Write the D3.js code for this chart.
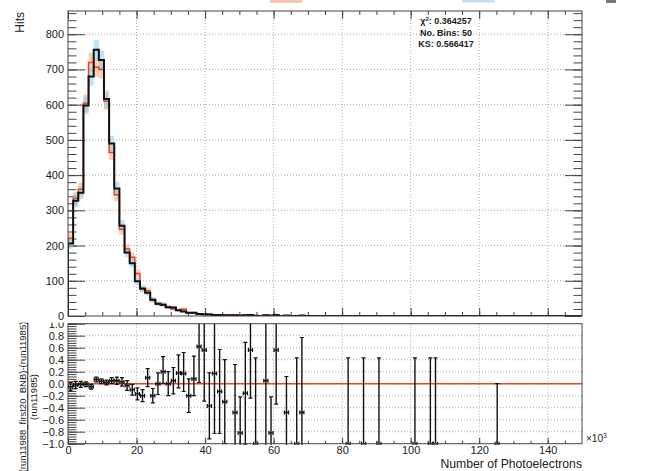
<!DOCTYPE html>
<html>
<head>
<meta charset="utf-8">
<script src="https://cdn.jsdelivr.net/npm/d3@7"></script>
<style>
  body { margin: 0; background: #fff; }
  text { font-family: "Liberation Sans", Arial, sans-serif; fill: #222; }
</style>
</head>
<body>
<div id="chart"></div>
<script>
// bins of 1.5 x10^3 photoelectrons, 0..150
var binWidth = 1.5;
var hitsRun11985 = [221,334,360,604,720,706,700,610,464,344,
  246,190,167,121,76,72,46,35,33,25,
  20,17,19,9,9,5,4,5,3,3,
  3,2,3,3,2,2,2,0,2,2,
  2,0,2,0,1,2,0,0,0,0,
  0,0,0,0,1,0,0,1,0,0,
  1,0,0,0,0,0,0,1,0,0,
  1,1,0,0,0,0,0,0,0,0,
  0,0,0,1,0,0,0,0,0,0,
  0,0,0,0,0,0,0,0,0,0];
var hitsFirst20 = [206,327,350,598,680,756,727,616,490,362,
  256,180,150,99,78,66,46,35,32,25,
  24,16,13,9,9,6,5,4,3,3,
  2,2,2,1,2,3,0,0,2,1,
  3,0,1,0,0,1,0,0,0,0,
  0,0,0,0,0,0,0,0,0,0,
  0,0,0,0,0,0,0,0,0,0,
  0,0,0,0,0,0,0,0,0,0,
  0,0,0,0,0,0,0,0,0,0,
  0,0,0,0,0,0,0,0,0,0];

// ratio (first20 - run11985)/run11985 per bin
var ratioBins  = [0,1,2,3,4,5,6,7,8,9,10,11,12,13,14,15,16,17,18,19,20,21,22,23,24,25,26,27,28,29,30,32,33,34,35,36,38,39,40,42,44,45,54,57,60,67,70,71,83];
var ratioVals  = [-0.05,-0.02,-0.01,-0.01,-0.05,0.07,0.04,0.02,0.05,0.05,0.03,-0.03,-0.1,-0.17,-0.2,0.1,-0.2,0.0,0.2,0.0,0.05,0.18,0.17,-0.2,0.08,0.62,0.56,-0.37,0.17,-0.13,-0.3,-0.48,-0.82,-0.16,0.56,-1,0.05,-0.82,0.56,-0.48,-1,-0.48,-1,-1,-1,-1,-1,-1,-1];
var ratioErrLo = [0.07,0.06,0.05,0.04,0.04,0.04,0.04,0.04,0.05,0.06,0.07,0.08,0.09,0.1,0.1,0.15,0.12,0.18,0.2,0.2,0.22,0.25,0.3,0.28,0.28,0.6,0.85,0.55,1.0,0.7,0.7,0.8,0.6,0.85,0.8,0,1.1,0.6,0.9,0.6,0,0.6,0,0,0,0,0,0,0];
var ratioErrHi = [0.07,0.06,0.05,0.04,0.04,0.04,0.04,0.04,0.05,0.06,0.07,0.08,0.09,0.1,0.1,0.15,0.12,0.18,0.25,0.2,0.22,0.3,0.35,0.28,0.38,0.6,0.85,0.55,1.0,0.7,0.7,0.8,0.6,0.85,0.8,1.43,1.1,0.6,0.9,0.6,1.43,1.25,1.43,1.43,1.43,1.43,1.43,1.43,1.0];

var xTicks = [0,20,40,60,80,100,120,140];
var hitsTicks = [0,100,200,300,400,500,600,700,800];
var ratioTicks = [-1,-0.8,-0.6,-0.4,-0.2,0,0.2,0.4,0.6,0.8,1];
var statsLines = ["No. Bins: 50", "KS: 0.566417"];

var W = 650, H = 471;
var svg = d3.select("#chart").append("svg")
  .attr("width", W).attr("height", H);

var x = d3.scaleLinear().domain([0, 150]).range([68, 582]);
var yMain = d3.scaleLinear().domain([0, 866]).range([316, 11]);
var yRatio = d3.scaleLinear().domain([-1, 1]).range([443.7, 323.7]);

var axisCol = "#444";
function styleAxis(g) {
  g.selectAll("path.domain").remove();
  g.selectAll("line").attr("stroke", axisCol);
  g.selectAll("text").style("font-size", "11px").attr("fill", "#222");
}

// ---------------- lower (ratio) pad ----------------
var low = svg.append("g");

low.append("g").selectAll("line").data(ratioTicks.slice(1, -1)).enter().append("line")
  .attr("x1", 68).attr("x2", 582)
  .attr("y1", d => yRatio(d)).attr("y2", d => yRatio(d))
  .attr("stroke", "#aaa").attr("stroke-dasharray", "1,2");
low.append("g").selectAll("line").data(xTicks.slice(1)).enter().append("line")
  .attr("x1", d => x(d)).attr("x2", d => x(d))
  .attr("y1", 323.7).attr("y2", 443.7)
  .attr("stroke", "#aaa").attr("stroke-dasharray", "1,2");

low.append("g").attr("transform", "translate(68,0)")
  .call(d3.axisLeft(yRatio).tickValues(ratioTicks).tickSize(-17).tickPadding(4).tickFormat(d3.format(".1f")))
  .call(styleAxis);
low.append("g").attr("transform", "translate(68,0)")
  .call(d3.axisLeft(yRatio).tickValues(d3.range(-1, 1.001, 0.04)).tickSize(-8.5).tickFormat(""))
  .call(styleAxis);
low.append("g").attr("transform", "translate(0,443.7)")
  .call(d3.axisBottom(x).tickValues(xTicks).tickSize(-6).tickPadding(2).tickFormat(d3.format("d")))
  .call(styleAxis);
low.append("g").attr("transform", "translate(0,443.7)")
  .call(d3.axisBottom(x).tickValues(d3.range(0, 150, 5)).tickSize(-3).tickFormat(""))
  .call(styleAxis);

low.append("line").attr("x1", 68).attr("x2", 582)
  .attr("y1", yRatio(0)).attr("y2", yRatio(0))
  .attr("stroke", "#e8461e").attr("stroke-width", 1.6);

svg.append("clipPath").attr("id", "clipLow").append("rect")
  .attr("x", 66).attr("y", 323.7).attr("width", 518).attr("height", 121);

var pts = low.append("g").attr("clip-path", "url(#clipLow)")
  .selectAll("g").data(ratioBins).enter().append("g");
pts.each(function(b, i) {
  var g = d3.select(this);
  var cx = x((b + 0.5) * binWidth), x0 = x(b * binWidth), x1 = x((b + 1) * binWidth);
  var cy = yRatio(ratioVals[i]);
  var yl = yRatio(ratioVals[i] - ratioErrLo[i]), yh = yRatio(ratioVals[i] + ratioErrHi[i]);
  g.append("line").attr("x1", x0 + 0.5).attr("x2", x1 - 0.5).attr("y1", cy).attr("y2", cy).attr("stroke", "#111").attr("stroke-width", 1.4);
  g.append("line").attr("x1", x0 + 0.5).attr("x2", x0 + 0.5).attr("y1", cy - 2).attr("y2", cy + 2).attr("stroke", "#111").attr("stroke-width", 1.2);
  g.append("line").attr("x1", x1 - 0.5).attr("x2", x1 - 0.5).attr("y1", cy - 2).attr("y2", cy + 2).attr("stroke", "#111").attr("stroke-width", 1.2);
  g.append("line").attr("x1", cx).attr("x2", cx).attr("y1", yl).attr("y2", yh).attr("stroke", "#111").attr("stroke-width", 1.4);
  g.append("line").attr("x1", cx - 2).attr("x2", cx + 2).attr("y1", yl).attr("y2", yl).attr("stroke", "#111").attr("stroke-width", 1.2);
  g.append("line").attr("x1", cx - 2).attr("x2", cx + 2).attr("y1", yh).attr("y2", yh).attr("stroke", "#111").attr("stroke-width", 1.2);
});

low.append("rect").attr("x", 68).attr("y", 323.7).attr("width", 514).attr("height", 120)
  .attr("fill", "none").attr("stroke", axisCol);

// x-axis title and exponent
low.append("text").attr("x", 582).attr("y", 468).attr("text-anchor", "end")
  .style("font-size", "12.2px").text("Number of Photoelectrons");
var ex = low.append("text").attr("x", 586).attr("y", 442).style("font-size", "10px");
ex.append("tspan").text("\u00d710");
ex.append("tspan").attr("dy", -4).style("font-size", "7px").text("3");

// ratio y title as a fraction
var fr = low.append("g").attr("transform", "translate(0,397) rotate(-90)");
fr.append("text").attr("x", 0).attr("y", 26).attr("text-anchor", "middle")
  .style("font-size", "9.5px").text("(run11988_first20_BNB)-(run11985)");
fr.append("line").attr("x1", -76).attr("x2", 76).attr("y1", 27.8).attr("y2", 27.8)
  .attr("stroke", "#222").attr("stroke-width", 1);
fr.append("text").attr("x", 0).attr("y", 37).attr("text-anchor", "middle")
  .style("font-size", "9.5px").text("(run11985)");

// ---------------- main pad ----------------
var main = svg.append("g");
main.append("rect").attr("x", 0).attr("y", 0).attr("width", W).attr("height", 322.6).attr("fill", "#fff");

// cut-off legend pieces at top
main.append("rect").attr("x", 270).attr("y", 0).attr("width", 32).attr("height", 3).attr("fill", "#f8c6ad");
main.append("rect").attr("x", 462).attr("y", 0).attr("width", 33).attr("height", 2.5).attr("fill", "#c3e2f6");
main.append("rect").attr("x", 606).attr("y", 0).attr("width", 10).attr("height", 3).attr("fill", "#777");

main.append("g").selectAll("line").data(hitsTicks.slice(1)).enter().append("line")
  .attr("x1", 68).attr("x2", 582)
  .attr("y1", d => yMain(d)).attr("y2", d => yMain(d))
  .attr("stroke", "#aaa").attr("stroke-dasharray", "1,2");
main.append("g").selectAll("line").data(xTicks.slice(1)).enter().append("line")
  .attr("x1", d => x(d)).attr("x2", d => x(d))
  .attr("y1", 11).attr("y2", 316)
  .attr("stroke", "#aaa").attr("stroke-dasharray", "1,2");

main.append("g").attr("transform", "translate(68,0)")
  .call(d3.axisLeft(yMain).tickValues(hitsTicks).tickSize(-17).tickPadding(4))
  .call(styleAxis);
main.append("g").attr("transform", "translate(68,0)")
  .call(d3.axisLeft(yMain).tickValues(d3.range(0, 861, 20)).tickSize(-8.5).tickFormat(""))
  .call(styleAxis);
main.append("g").attr("transform", "translate(582,0)")
  .call(d3.axisRight(yMain).tickValues(hitsTicks).tickSize(-17).tickFormat(""))
  .call(styleAxis);
main.append("g").attr("transform", "translate(582,0)")
  .call(d3.axisRight(yMain).tickValues(d3.range(0, 861, 20)).tickSize(-8.5).tickFormat(""))
  .call(styleAxis);
[11, 316].forEach(function(yy) {
  var top = yy === 11;
  var ax = top ? d3.axisTop : d3.axisBottom;
  main.append("g").attr("transform", "translate(0," + yy + ")")
    .call(ax(x).tickValues(xTicks).tickSize(-8).tickFormat(""))
    .call(styleAxis);
  main.append("g").attr("transform", "translate(0," + yy + ")")
    .call(ax(x).tickValues(d3.range(0, 150, 5)).tickSize(-4).tickFormat(""))
    .call(styleAxis);
});

svg.append("clipPath").attr("id", "clipMain").append("rect")
  .attr("x", 68).attr("y", 11).attr("width", 514).attr("height", 305);
var plot = main.append("g").attr("clip-path", "url(#clipMain)");

function band(vals, fill, op) {
  plot.append("g").selectAll("rect").data(vals).enter().append("rect")
    .filter(d => d > 0)
    .attr("x", (d, i) => x(i * binWidth))
    .attr("width", x(binWidth) - x(0))
    .attr("y", d => yMain(d + Math.sqrt(d)))
    .attr("height", d => yMain(d - Math.sqrt(d)) - yMain(d + Math.sqrt(d)))
    .attr("fill", fill).attr("fill-opacity", op);
}
band(hitsRun11985, "#f4a782", 0.55);
band(hitsFirst20, "#8ccbef", 0.55);

function stepPath(vals) {
  var p = vals.map((v, i) => [i * binWidth, v]);
  p.push([vals.length * binWidth, vals[vals.length - 1]]);
  p.unshift([0, 0]);
  return d3.line().x(d => x(d[0])).y(d => yMain(d[1])).curve(d3.curveStepAfter)(p);
}
plot.append("path").attr("d", stepPath(hitsRun11985))
  .attr("fill", "none").attr("stroke", "#e8461e").attr("stroke-width", 1.5);
plot.append("path").attr("d", stepPath(hitsFirst20))
  .attr("fill", "none").attr("stroke", "#111").attr("stroke-width", 2);

main.append("rect").attr("x", 68).attr("y", 11).attr("width", 514).attr("height", 305)
  .attr("fill", "none").attr("stroke", axisCol);

// y title
main.append("text").attr("transform", "translate(24,12) rotate(-90)")
  .attr("text-anchor", "end").style("font-size", "12px").text("Hits");

// stats text
var st = main.append("g").attr("transform", "translate(446,0)");
var t1 = st.append("text").attr("y", 24).attr("text-anchor", "middle")
  .style("font-size", "9px").style("font-weight", "bold");
t1.append("tspan").text("\u03c7");
t1.append("tspan").attr("dy", -3.5).style("font-size", "6px").text("2");
t1.append("tspan").attr("dy", 3.5).text(": 0.364257");
st.selectAll("text.s").data(statsLines).enter().append("text").attr("class", "s")
  .attr("y", (d, i) => 35.8 + i * 11.2).attr("text-anchor", "middle")
  .style("font-size", "9px").style("font-weight", "bold").text(d => d);
</script>
</body>
</html>
